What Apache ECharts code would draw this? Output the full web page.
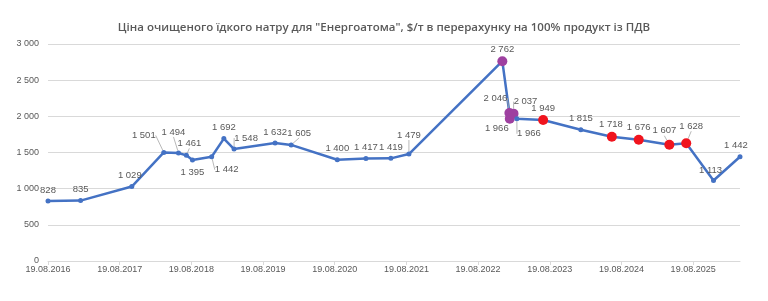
<!DOCTYPE html>
<html>
<head>
<meta charset="utf-8">
<script src="https://cdn.jsdelivr.net/npm/echarts@6/dist/echarts.min.js"></script>
<style>
  html, body { margin: 0; padding: 0; background: #fff; }
  #Price_Chart { width: 768px; height: 301px; }
</style>
</head>
<body>
<div id="Price_Chart"></div>
<script>
// дати точок (оцінка по картинці) і ціни, $/т
var dates = ['2016-08-19', '2017-02-01', '2017-10-20', '2018-04-01', '2018-06-15', '2018-07-25',
  '2018-08-25', '2018-12-01', '2019-02-01', '2019-03-25', '2019-10-20', '2020-01-10',
  '2020-09-01', '2021-01-25', '2021-06-01', '2021-09-01', '2022-12-21', '2023-01-26',
  '2023-01-28', '2023-02-16', '2023-03-05', '2023-07-17', '2024-01-25', '2024-07-01',
  '2024-11-15', '2025-04-20', '2025-07-15', '2025-12-01', '2026-04-15'];
var prices = [828, 835, 1029, 1501, 1494, 1461, 1395, 1442, 1692, 1548, 1632, 1605,
  1400, 1417, 1419, 1479, 2762, 2046, 1966, 2037, 1966, 1949, 1815, 1718,
  1676, 1607, 1628, 1113, 1442];
var startDate = '2016-08-19';
var xTicks = [0, 1, 2, 3, 4, 5, 6, 7, 8, 9]; // роки від 19.08.2016
var yTicks = [0, 500, 1000, 1500, 2000, 2500, 3000];

// кольори маркерів
var purplePts = [16, 17, 18, 19];
var redPts = [21, 23, 24, 25, 26];
// зсув підписів від точки (px) і виноски
var labelShift = {
  0: [0, -11], 1: [0, -11], 2: [-2, -11], 3: [-20, -17], 4: [-5, -21], 5: [3, -12],
  6: [0, 12], 7: [15, 13], 8: [0, -11], 9: [12, -11], 10: [0, -11], 11: [8, -12],
  12: [0, -11], 13: [0, -11], 14: [0, -11], 15: [0, -19], 16: [0, -12], 17: [-14, -15],
  18: [-13, 10], 19: [12, -12], 20: [12, 15], 21: [0, -12], 22: [0, -11], 23: [-1, -12],
  24: [0, -12], 25: [-5, -14], 26: [5, -17], 27: [-3, -10], 28: [-4, -11]
};
var leaderPts = [3, 4, 5, 7, 9, 11, 15, 17, 19, 20, 25, 26];

function yearsFrom(d) {
  return (Date.parse(d) - Date.parse(startDate)) / (365.25 * 86400000);
}
function fmt(v) {
  return String(v).replace(/\B(?=(\d{3})+(?!\d))/g, ' ');
}

var pts = dates.map(function (d, i) {
  var item = { value: [yearsFrom(d), prices[i]] };
  if (purplePts.indexOf(i) >= 0) {
    item.symbolSize = 10;
    item.itemStyle = { color: '#9E40A0' };
  } else if (redPts.indexOf(i) >= 0) {
    item.symbolSize = 10;
    item.itemStyle = { color: '#F0141E' };
  }
  if (leaderPts.indexOf(i) >= 0) {
    item.labelLine = { show: true };
  }
  return item;
});
var xMax = yearsFrom(dates[dates.length - 1]);

var myChart = echarts.init(document.getElementById('Price_Chart'), null, { renderer: 'canvas' });
var option = {
  animation: false,
  title: {
    text: 'Ціна очищеного їдкого натру для "Енергоатома", $/т в перерахунку на 100% продукт із ПДВ',
    left: 'center',
    top: 17,
    textStyle: { fontFamily: 'Open Sans', fontSize: 11.5, fontWeight: 600, color: '#595959' }
  },
  grid: {
    top: 44, // верх
    bottom: 40, // низ
    left: 48,
    right: 28
  },
  xAxis: {
    type: 'value',
    min: 0,
    max: xMax,
    interval: 1,
    axisLine: { show: true, lineStyle: { color: '#D9D9D9' } },
    axisTick: { show: true, length: 4, customValues: xTicks, lineStyle: { color: '#D9D9D9' } },
    splitLine: { show: false },
    axisLabel: {
      customValues: xTicks,
      formatter: function (v) { return '19.08.' + (2016 + Math.round(v)); },
      fontFamily: 'Liberation Sans Narrow, Liberation Sans',
      fontSize: 9, color: '#595959', margin: 4
    }
  },
  yAxis: {
    type: 'value',
    min: 0,
    max: 3000,
    interval: 500,
    axisLine: { show: false },
    axisTick: { show: false },
    splitLine: { lineStyle: { color: '#D9D9D9' } },
    axisLabel: {
      formatter: function (v) { return fmt(v); },
      fontFamily: 'Liberation Sans Narrow, Liberation Sans',
      fontSize: 9, color: '#595959', margin: 9
    }
  },
  series: [{
    type: 'line',
    data: pts,
    symbol: 'circle',
    symbolSize: 5,
    showAllSymbol: true,
    lineStyle: { color: '#4472C4', width: 2.5 },
    itemStyle: { color: '#4472C4' },
    label: {
      show: true,
      position: 'inside',
      formatter: function (p) { return fmt(p.value[1]); },
      fontFamily: 'Liberation Sans Narrow, Liberation Sans',
      fontSize: 9.5,
      color: '#595959',
      textBorderWidth: 0
    },
    labelLine: { show: false, lineStyle: { color: '#A6A6A6', width: 0.8 } },
    labelLayout: function (params) {
      var s = labelShift[params.dataIndex] || [0, -11];
      return { dx: s[0], dy: s[1] };
    }
  }]
};
myChart.setOption(option);
window.addEventListener('resize', myChart.resize);
</script>
</body>
</html>
